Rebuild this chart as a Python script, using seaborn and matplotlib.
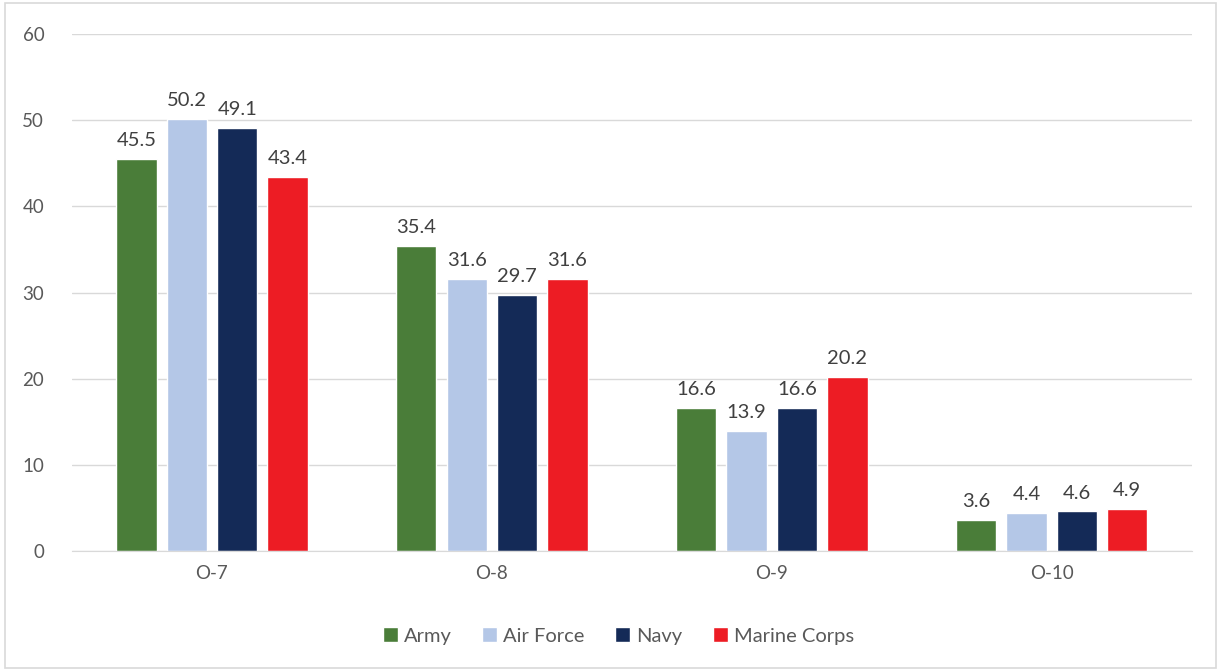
import pandas as pd
import matplotlib.pyplot as plt
import seaborn as sns
from matplotlib.patches import Rectangle

grades = ['O-7', 'O-8', 'O-9', 'O-10']
services = ['Army', 'Air Force', 'Navy', 'Marine Corps']
army = [45.5, 35.4, 16.6, 3.6]
air_force = [50.2, 31.6, 13.9, 4.4]
navy = [49.1, 29.7, 16.6, 4.6]
marine_corps = [43.4, 31.6, 20.2, 4.9]
colors = ['#4A7D39', '#B4C7E7', '#142A57', '#ED1C24']

# Long-form table for seaborn
data = pd.DataFrame({
    'grade': grades * 4,
    'service': [s for s in services for _ in grades],
    'value': army + air_force + navy + marine_corps,
})

sns.set_style('white')
plt.rcParams['font.family'] = ['Lato', 'DejaVu Sans']

fig = plt.figure(figsize=(12.21, 6.71), dpi=100)
ax = fig.add_axes([0.059, 0.179, 0.917, 0.770])

sns.barplot(data=data, x='grade', y='value', hue='service', order=grades,
            hue_order=services, palette=colors, width=0.72, gap=0.2,
            saturation=1, ax=ax, legend=True)

for container in ax.containers:
    ax.bar_label(container, fmt='%.1f', padding=7, fontsize=14.5, color='#404040')

ax.set_ylim(0, 60)
ax.set_xlim(-0.5, 3.5)
ax.set_yticks(range(0, 61, 10))
ax.yaxis.grid(True, color='#D9D9D9', linewidth=1)
ax.set_axisbelow(True)
ax.set_xlabel('')
ax.set_ylabel('')
for side in ['left', 'right', 'top']:
    ax.spines[side].set_visible(False)
ax.spines['bottom'].set_color('#D9D9D9')
ax.tick_params(axis='both', length=0, labelsize=13.5, colors='#595959')
ax.tick_params(axis='y', pad=20)
ax.tick_params(axis='x', pad=10)

ax.legend(loc='center', bbox_to_anchor=(0.488, -0.165), ncol=4, frameon=False,
          fontsize=14.5, handlelength=0.75, handleheight=0.75, handletextpad=0.3,
          columnspacing=1.5, labelcolor='#595959')

# Light border around the whole chart
fig.patches.append(Rectangle((0.004, 0.004), 0.992, 0.992, transform=fig.transFigure,
                             fill=False, edgecolor='#D9D9D9', linewidth=1.2))

plt.savefig('out.png', dpi=100)
